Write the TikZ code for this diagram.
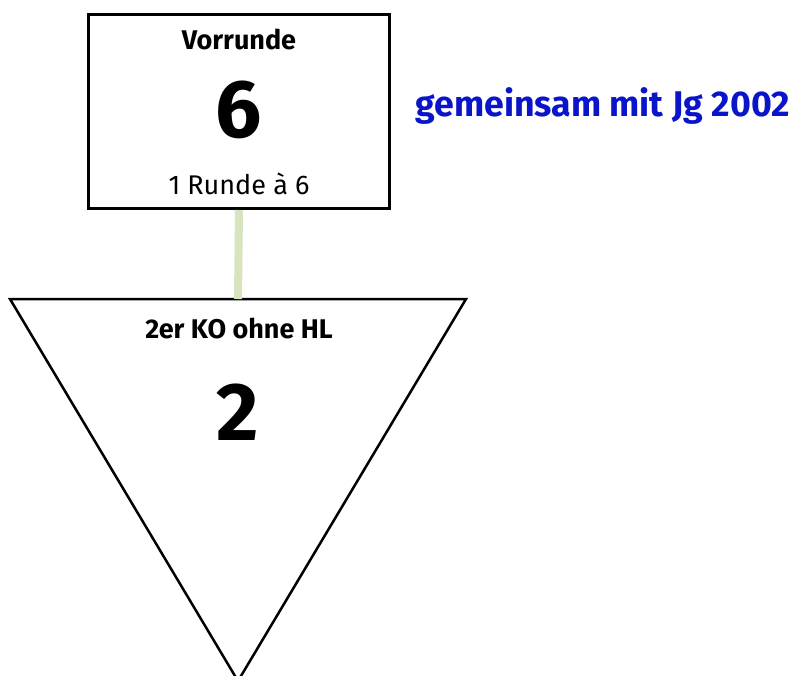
\documentclass[tikz,border=0pt]{standalone}
\usepackage{fontspec}
\setmainfont{Fira Sans}
\usetikzlibrary{positioning}
\definecolor{linkgreen}{HTML}{D7E4BD}
\definecolor{noteblue}{HTML}{0A14C8}
\tikzset{
  roundbox/.style={draw, line width=3pt, minimum width=301pt, minimum height=194pt, inner sep=0pt},
  title/.style={font=\bfseries\fontsize{27}{30}\selectfont},
  bignum/.style={font=\bfseries\fontsize{82}{86}\selectfont},
  subline/.style={font=\fontsize{27}{30}\selectfont}
}
\begin{document}
\begin{tikzpicture}[x=1pt,y=-1pt]
    \useasboundingbox (0,0) rectangle (798,675);

    % Vorrunde
    \node[roundbox] (vr) at (239,111.5) {};
    \node[title, anchor=base] (vrtitle) at (239,49) {Vorrunde};
    \node[bignum, anchor=base] (vrnum) at (239,137) {6};
    \node[subline, anchor=base] (vrsub) at (239,194) {1 Runde à 6};

    % note
    \node[font=\bfseries\fontsize{35.7}{38}\selectfont, text=noteblue, anchor=base west] (note) at (412,116) {gemeinsam mit Jg 2002};

    % KO triangle
    \coordinate (kol) at (10,299);
    \coordinate (kor) at (466,299);
    \coordinate (kotip) at (238,681);
    \coordinate (kotop) at (238,299);
    \draw[line width=2.5pt, line join=miter] (kol) -- (kor) -- (kotip) -- cycle;
    \node[title, anchor=base] (kotitle) at (239,338) {2er KO ohne HL};
    \node[bignum, anchor=base] (konum) at (238,440) {2};

    % link
    \draw[linkgreen, line width=8pt] (vr.south) -- (kotop);
\end{tikzpicture}
\end{document}
